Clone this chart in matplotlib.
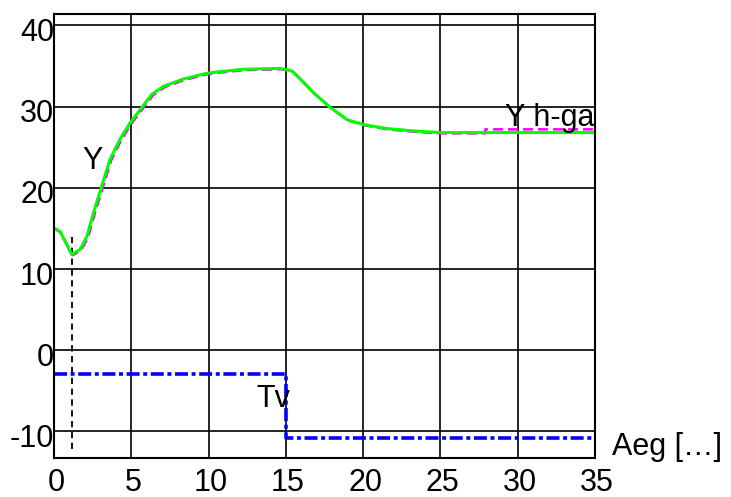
import matplotlib.pyplot as plt
import matplotlib.transforms as mtransforms

plt.rcParams['font.family'] = ['Liberation Sans', 'DejaVu Sans']
plt.rcParams['axes.unicode_minus'] = False

# Y (green, solid)
y_t = [0, 0.39, 0.71, 1.14, 1.68, 2.12, 2.55, 3.08, 3.62, 4.27, 4.92, 5.68, 6.32, 7.08, 8.37,
       9.88, 10.7, 12.25, 14.63, 15.38, 15.92, 16.78, 17.86, 18.95, 20.0, 21.5, 23.26, 25.0, 35.0]
y_val = [15.06, 14.6, 13.4, 11.8, 12.4, 14.0, 16.9, 20.2, 23.5, 26.0, 28.0, 29.9, 31.5, 32.5, 33.4,
         34.1, 34.3, 34.6, 34.7, 34.4, 33.4, 31.7, 29.9, 28.4, 27.8, 27.3, 27.0, 26.8, 26.8]

# Y h-ga (magenta, dashed)
h_t = [0, 0.45, 0.77, 1.2, 1.75, 2.2, 2.63, 3.16, 3.7, 4.35, 5.0, 5.76, 6.4, 7.16, 8.45,
       9.96, 10.78, 12.33, 14.7, 15.45, 16.0, 16.86, 17.94, 19.03, 20.08, 21.58, 23.34, 25.0, 27.9, 27.9, 35.0]
h_val = [15.0, 14.5, 13.3, 11.7, 12.3, 13.9, 16.8, 20.1, 23.4, 25.9, 27.9, 29.8, 31.4, 32.4, 33.3,
         34.0, 34.2, 34.5, 34.6, 34.3, 33.3, 31.6, 29.8, 28.3, 27.7, 27.2, 26.9, 26.7, 26.7, 27.2, 27.2]

# Tv (blue, dash-dot step)
tv_t = [0, 15, 15, 35]
tv_val = [-2.9, -2.9, -10.8, -10.8]

# marker at the minimum
t_min = 1.14
min_lo, min_hi = -12.2, 13.9

xticks = [0, 5, 10, 15, 20, 25, 30, 35]
yticks = [-10, 0, 10, 20, 30, 40]

fig = plt.figure(figsize=(7.31, 4.97), dpi=100)
ax = fig.add_axes([0.0739, 0.0779, 0.7401, 0.8939])

ax.plot([t_min, t_min], [min_lo, min_hi], color='black', linestyle=(0, (3.5, 2.5)), linewidth=1.3)
ax.plot(h_t, h_val, color='#ff00ff', linestyle=(0, (4, 2)), linewidth=1.8)
ax.plot(y_t, y_val, color='#00ff00', linewidth=2.2)
ax.plot(tv_t, tv_val, color='#0000ff', linestyle=(0, (3.6, 1, 1.1, 1)), linewidth=2.6)

ax.set_xlim(0, 35)
ax.set_ylim(-13.3, 41.4)
ax.set_xticks(xticks)
ax.set_yticks(yticks)
ax.tick_params(length=0, labelsize=22)
ax.tick_params(axis='x', pad=7)
ax.tick_params(axis='y', pad=0)
ax.grid(True, color='black', linewidth=1.2)
for s in ax.spines.values():
    s.set_linewidth(1.5)

# tick labels sit a little low / right in the original
dy = mtransforms.ScaledTranslation(0, -4 / 100, fig.dpi_scale_trans)
dx = mtransforms.ScaledTranslation(2 / 100, 0, fig.dpi_scale_trans)
for lab in ax.get_yticklabels():
    lab.set_transform(lab.get_transform() + dy)
for lab in ax.get_xticklabels():
    lab.set_transform(lab.get_transform() + dx)

ax.text(1.8, 22.3, 'Y', fontsize=22, va='baseline', ha='left')
ax.text(34.95, 27.6, 'Y h-ga', fontsize=22, va='baseline', ha='right')
ax.text(13.1, -7.0, 'Tv', fontsize=22, va='baseline', ha='left')
ax.text(36.1, -12.9, 'Aeg […]', fontsize=22, va='baseline', ha='left', clip_on=False)

fig.savefig('out.png', dpi=100)
